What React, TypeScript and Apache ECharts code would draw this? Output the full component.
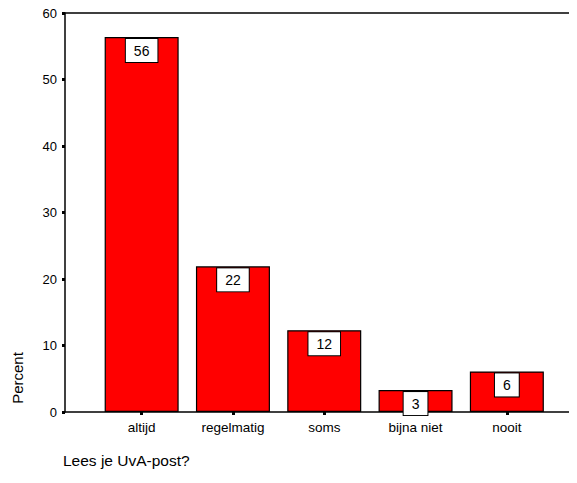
import React, { useEffect, useRef } from "react";
import * as echarts from "echarts";

const categories = ["altijd", "regelmatig", "soms", "bijna niet", "nooit"];
const percentValues = [56.4, 21.9, 12.3, 3.3, 6.1];
const yTicks = { min: 0, max: 60, interval: 10 };
const yAxisTitle = "Percent";
const xAxisTitle = "Lees je UvA-post?";

const FONT = "Arial, 'Liberation Sans', sans-serif";

export default function App() {
  const ref = useRef<HTMLDivElement>(null);
  useEffect(() => {
    if (!ref.current) return;
    const chart = echarts.init(ref.current, null, { renderer: "svg" });
    chart.setOption({
      animation: false,
      backgroundColor: "#fff",
      textStyle: { fontFamily: FONT },
      grid: [
        { left: 65, right: 0, top: 13, bottom: 71 },
        { left: 96, right: 24.5, top: 13, bottom: 71 },
      ],
      xAxis: [
        {
          gridIndex: 0,
          type: "value",
          min: 0,
          max: 1,
          position: "bottom",
          axisLine: { show: true, lineStyle: { color: "#000", width: 1.5 } },
          axisTick: { show: false },
          axisLabel: { show: false },
          splitLine: { show: false },
        },
        {
          gridIndex: 0,
          type: "value",
          min: 0,
          max: 1,
          position: "top",
          axisLine: { show: true, lineStyle: { color: "#000", width: 1.5 } },
          axisTick: { show: false },
          axisLabel: { show: false },
          splitLine: { show: false },
        },
        {
          gridIndex: 1,
          type: "category",
          data: categories,
          axisLine: { show: false },
          axisTick: {
            show: true,
            alignWithLabel: true,
            length: 3,
            lineStyle: { color: "#000", width: 3 },
          },
          axisLabel: {
            color: "#000",
            fontSize: 13.5,
            fontFamily: FONT,
            margin: 8,
          },
        },
      ],
      yAxis: [
        {
          gridIndex: 0,
          type: "value",
          min: yTicks.min,
          max: yTicks.max,
          interval: yTicks.interval,
          axisLine: { show: true, lineStyle: { color: "#000", width: 1.5 } },
          axisTick: {
            show: true,
            length: 3,
            lineStyle: { color: "#000", width: 3 },
          },
          axisLabel: {
            color: "#000",
            fontSize: 13,
            fontFamily: FONT,
            margin: 8,
          },
          splitLine: { show: false },
        },
        {
          gridIndex: 1,
          type: "value",
          min: yTicks.min,
          max: yTicks.max,
          interval: yTicks.interval,
          show: false,
          splitLine: { show: false },
        },
      ],
      series: [
        {
          type: "bar",
          xAxisIndex: 2,
          yAxisIndex: 1,
          data: percentValues,
          barWidth: 74,
          itemStyle: { color: "#ff0000", borderColor: "#000", borderWidth: 1.2 },
          label: {
            show: true,
            position: "insideTop",
            distance: 2,
            formatter: (p: any) => String(Math.round(p.value)),
            color: "#000",
            fontSize: 14,
            fontFamily: FONT,
            backgroundColor: "#fff",
            borderColor: "#000",
            borderWidth: 1,
            padding: [5, 8, 4, 8],
          },
        },
      ],
      graphic: [
        {
          type: "text",
          x: 17,
          y: 378,
          rotation: Math.PI / 2,
          style: {
            text: yAxisTitle,
            fill: "#000",
            font: `15px ${FONT}`,
            align: "center",
            verticalAlign: "middle",
          },
        },
        {
          type: "text",
          x: 63,
          y: 460,
          style: {
            text: xAxisTitle,
            fill: "#000",
            font: `15.5px ${FONT}`,
            align: "left",
            verticalAlign: "middle",
          },
        },
      ],
    });
    return () => chart.dispose();
  }, []);
  return <div ref={ref} style={{ width: 577, height: 483, margin: -8 }} />;
}
